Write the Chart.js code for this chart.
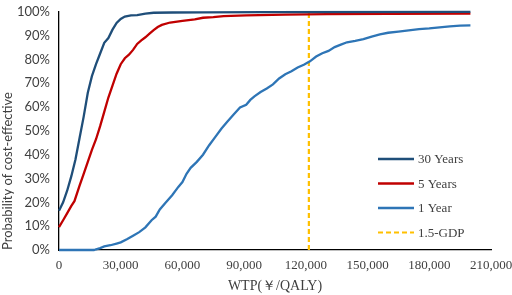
<!DOCTYPE html>
<html>
<head>
<meta charset="utf-8">
<script src="https://cdn.jsdelivr.net/npm/chart.js@4"></script>
<style>
  html, body { margin: 0; padding: 0; background: #fff; }
  #wrap { width: 512px; height: 295px; position: relative; }
</style>
</head>
<body>
<div id="wrap"><canvas id="chartCanvas"></canvas></div>
<script>
(function() {
  'use strict';

  // WTP (yuan/QALY) and probability (%)
  var wtp30 = [0, 2000, 4000, 6000, 8000, 10000, 12000, 14000, 16000, 18000, 20000, 22000, 24000, 26000, 28000, 30000, 32000, 35000, 38000, 42000, 46000, 55000, 70000, 100000, 200000];
  var prob30 = [16.5, 20, 25, 31, 38, 47, 56, 66, 73, 78, 82.5, 87, 89, 92.5, 95.3, 97, 98, 98.5, 98.6, 99.2, 99.6, 99.7, 99.8, 99.9, 100];

  var wtp5 = [0, 2000, 4000, 6000, 7500, 10000, 12000, 14000, 16000, 18000, 20000, 22000, 24000, 26000, 28000, 30000, 32000, 34000, 36000, 38000, 40000, 42000, 44000, 46000, 48000, 50000, 54000, 60000, 66000, 70000, 75000, 80000, 91000, 110000, 130000, 160000, 200000];
  var prob5 = [9.6, 12.5, 15.5, 18.5, 20.5, 27, 32, 37, 42, 46.5, 52, 58, 64, 69, 74, 78, 80.5, 82, 84, 86.5, 88, 89.3, 90.8, 92.3, 93.6, 94.5, 95.5, 96.2, 96.8, 97.5, 97.8, 98.2, 98.5, 98.8, 99.0, 99.1, 99.2];

  var wtp1 = [0, 10000, 17000, 18000, 20000, 22000, 25000, 28000, 30000, 33000, 36000, 39000, 42000, 45000, 47000, 49000, 52000, 55000, 58000, 60000, 62000, 64000, 67000, 70000, 73000, 76000, 79000, 82000, 85000, 88000, 91000, 93000, 95000, 98000, 101000, 104000, 107000, 110000, 113000, 116000, 119000, 122000, 125000, 128000, 131000, 134000, 137000, 140000, 144000, 148000, 152000, 156000, 160000, 165000, 170000, 175000, 180000, 185000, 190000, 195000, 200000];
  var prob1 = [0, 0, 0, 0.3, 0.8, 1.5, 2, 2.7, 3.2, 4.5, 6, 7.5, 9.5, 12.5, 14, 17, 20, 23, 26.5, 28.5, 32, 34.5, 37, 40, 44, 47.5, 51, 54, 57, 59.8, 61, 63, 64.5, 66.3, 67.8, 69.5, 72, 73.8, 75, 76.6, 77.8, 79.2, 81.2, 82.6, 83.6, 85.2, 86.2, 87.2, 87.8, 88.5, 89.6, 90.5, 91.2, 91.7, 92.2, 92.7, 93, 93.5, 93.9, 94.2, 94.3];

  var gdpWtp = [121464, 121464];
  var gdpProb = [0, 100];

  var seriesNames = ['30 Years', '5 Years', '1 Year', '1.5-GDP'];
  var xTicks = [0, 30000, 60000, 90000, 120000, 150000, 180000, 210000];

  function pts(xs, ys) {
    return xs.map(function(x, i) { return { x: x, y: ys[i] }; });
  }

  var legendPlugin = {
    id: 'sideLegend',
    afterDraw: function(chart) {
      var ctx = chart.ctx;
      var ds = chart.data.datasets;
      ctx.save();
      ctx.font = '13px "Liberation Serif", "Times New Roman", serif';
      ctx.textBaseline = 'middle';
      ds.forEach(function(d, i) {
        var y = 159 + i * 24.5;
        ctx.beginPath();
        ctx.strokeStyle = d.borderColor;
        ctx.lineWidth = d.borderWidth;
        ctx.setLineDash(d.borderDash || []);
        ctx.moveTo(378, y);
        ctx.lineTo(414, y);
        ctx.stroke();
        ctx.setLineDash([]);
        ctx.fillStyle = '#404040';
        ctx.fillText(d.label, 418, y + 1);
      });
      ctx.restore();
    }
  };

  function init() {
    var ctx = document.getElementById('chartCanvas').getContext('2d');
    new Chart(ctx, {
      type: 'line',
      data: {
        datasets: [
          { label: seriesNames[0], data: pts(wtp30, prob30), borderColor: '#1F4E79', borderWidth: 2.3 },
          { label: seriesNames[1], data: pts(wtp5, prob5), borderColor: '#C00000', borderWidth: 2.3 },
          { label: seriesNames[2], data: pts(wtp1, prob1), borderColor: '#2E75B6', borderWidth: 2.3 },
          { label: seriesNames[3], data: pts(gdpWtp, gdpProb), borderColor: '#FFC000', borderWidth: 2.2, borderDash: [5, 3] }
        ]
      },
      options: {
        responsive: true,
        maintainAspectRatio: false,
        animation: false,
        clip: false,
        elements: {
          point: { radius: 0 },
          line: { tension: 0, fill: false, borderCapStyle: 'butt' }
        },
        layout: { padding: { top: 6, right: 21, left: 0, bottom: 0 } },
        plugins: {
          legend: { display: false },
          tooltip: { enabled: false }
        },
        scales: {
          x: {
            type: 'linear',
            min: 0,
            max: 210000,
            afterBuildTicks: function(scale) {
              scale.ticks = xTicks.map(function(v) { return { value: v }; });
            },
            grid: { display: false, drawTicks: true, tickLength: 5, tickColor: '#000' },
            border: { display: true, color: '#000', width: 1.3 },
            ticks: {
              color: '#404040',
              font: { family: '"Liberation Serif", "Times New Roman", serif', size: 13 },
              padding: 3,
              maxRotation: 0,
              autoSkip: false,
              callback: function(v) { return v.toLocaleString('en-US'); }
            },
            title: {
              display: true,
              text: 'WTP(￥/QALY)',
              color: '#404040',
              font: { family: '"Liberation Serif", "Times New Roman", serif', size: 14 },
              padding: { top: 0, bottom: 0 }
            },
            afterFit: function(scale) {
              scale.height = 45;
              scale.paddingRight = 0;
              scale.paddingLeft = 0;
            }
          },
          y: {
            min: 0,
            max: 100,
            ticks: {
              stepSize: 10,
              color: '#404040',
              font: { family: 'Lato, "Open Sans", sans-serif', size: 13 },
              padding: 4,
              callback: function(v) { return v + '%'; }
            },
            grid: { display: false, drawTicks: true, tickLength: 5, tickColor: '#000' },
            border: { display: true, color: '#000', width: 1.3 },
            title: {
              display: true,
              text: 'Probability of cost-effective',
              align: 'start',
              color: '#404040',
              font: { family: 'Lato, "Open Sans", sans-serif', size: 13 },
              padding: { top: 0, bottom: 2 }
            },
            afterFit: function(scale) { scale.width = 59; }
          }
        }
      },
      plugins: [legendPlugin]
    });
  }

  document.addEventListener('DOMContentLoaded', init);
})();
</script>
</body>
</html>
